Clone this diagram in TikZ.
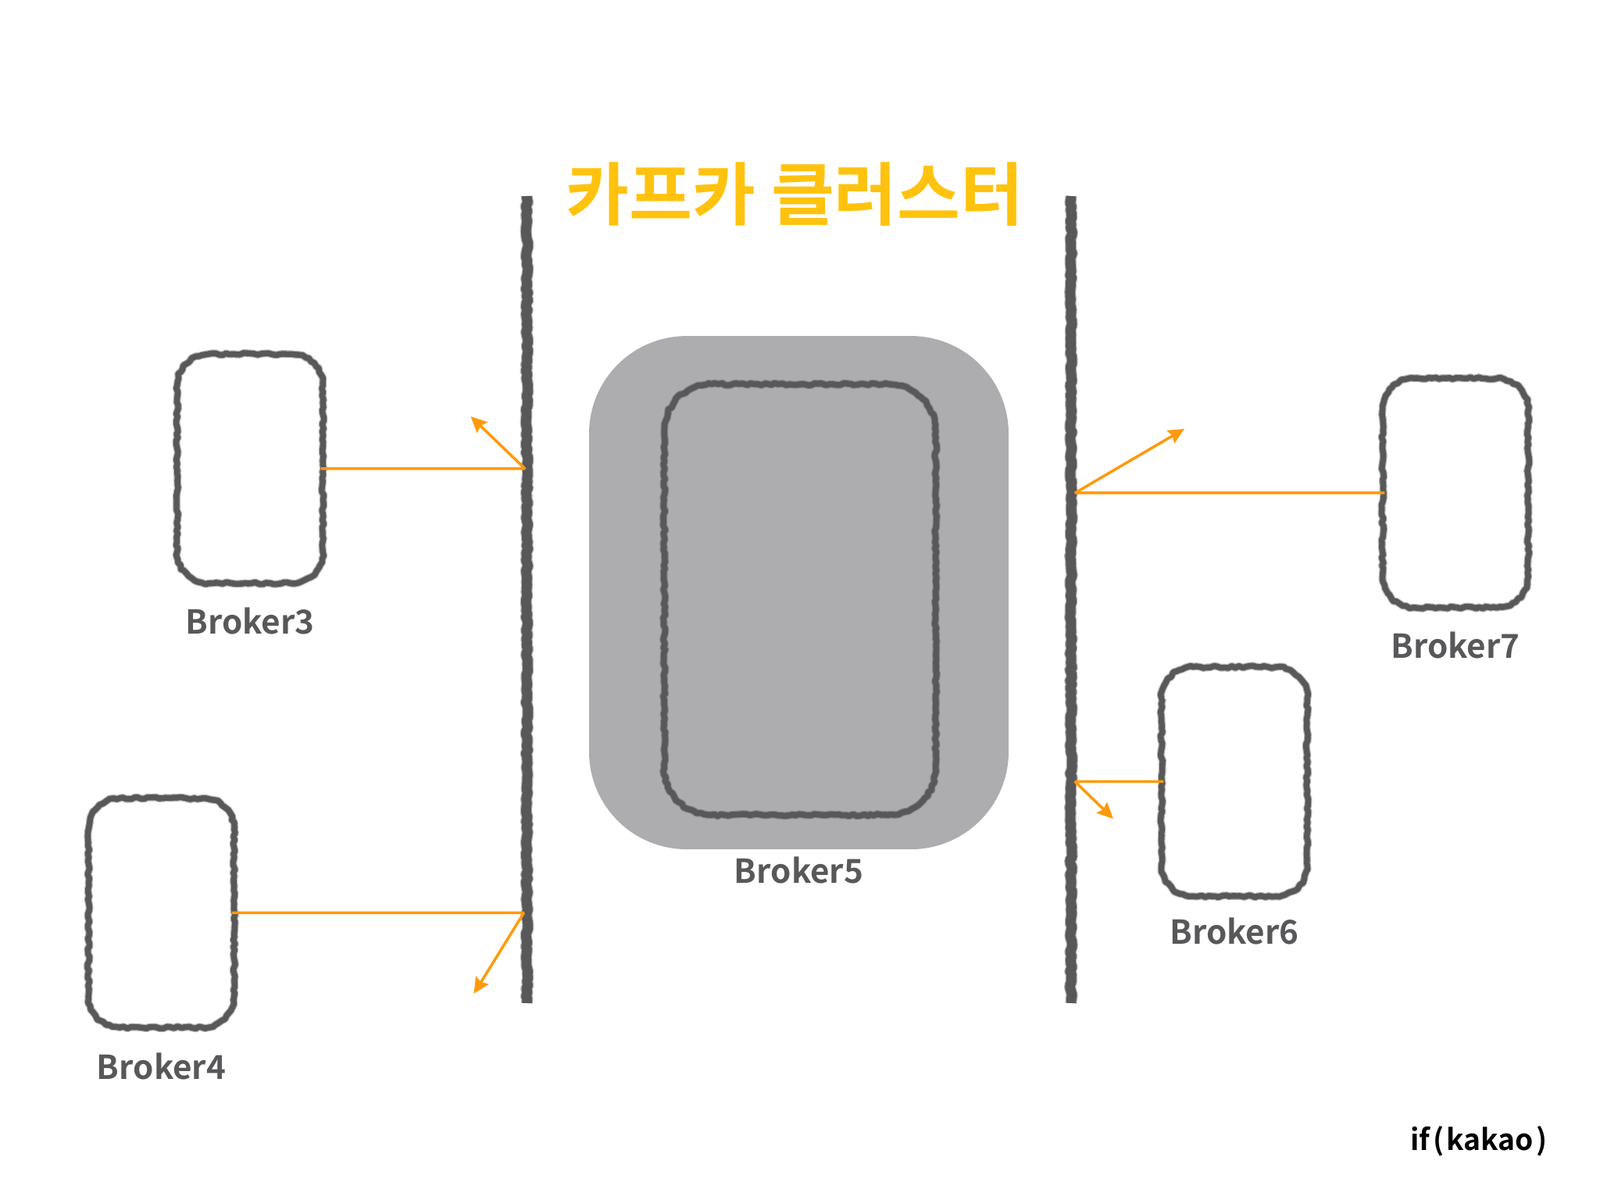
\documentclass[tikz,border=0pt]{standalone}
\usepackage{fontspec}
\setmainfont{Noto Sans CJK KR}[BoldFont={Noto Sans CJK KR Bold}]
\usetikzlibrary{arrows.meta, positioning, decorations.pathmorphing}

\definecolor{crayon}{HTML}{58585A}
\definecolor{signal}{HTML}{FF9A0A}
\definecolor{clustertitle}{HTML}{FFC20E}
\definecolor{halo}{HTML}{ADACAF}

\tikzset{
	crayon line/.style={draw=crayon, line width=#1, line join=round, decorate,
		decoration={random steps, segment length=1.3pt, amplitude=0.4pt},
		preaction={draw=crayon, draw opacity=0.45, line width=#1+0.7pt, line join=round,
			decorate, decoration={random steps, segment length=1.5pt, amplitude=0.4pt}}},
	crayon line/.default=2.1pt,
	broker/.style={minimum width=1.85cm, minimum height=2.92cm, inner sep=0pt},
	broker label/.style={text=crayon, font=\bfseries\fontsize{12}{15}\selectfont,
		inner sep=0pt},
	signal line/.style={draw=signal, line width=1pt, line join=bevel, shorten <=-0.7pt,
		-{Stealth[length=5.8pt, width=5.4pt, inset=0.8pt]}}
}

% outline of a broker node, radius #2
\newcommand{\crayonbox}[2]{
	\draw [crayon line] ([yshift=-#2]#1.north west)
		arc [start angle=180, end angle=90, radius=#2]
		-- ([xshift=-#2]#1.north east)
		arc [start angle=90, end angle=0, radius=#2]
		-- ([yshift=#2]#1.south east)
		arc [start angle=0, end angle=-90, radius=#2]
		-- ([xshift=#2]#1.south west)
		arc [start angle=-90, end angle=-180, radius=#2]
		-- cycle;
}

\begin{document}
\begin{tikzpicture}
	\useasboundingbox (0,0) rectangle (20.48,15.36);

	\node [fill=halo, rounded corners=1.25cm, minimum width=5.37cm,
	minimum height=6.57cm, inner sep=0pt] (halo) at (10.225,7.774) {};
	\node [broker, minimum width=3.46cm, minimum height=5.5cm] (broker5) at (10.24,7.685) {};
	\node [broker label, below=0.08cm of halo] (label5) {Broker5};

	\node [broker] (broker3) at (3.2,9.36) {};
	\node [broker] (broker4) at (2.065,3.675) {};
	\node [broker] (broker6) at (15.8,5.355) {};
	\node [broker] (broker7) at (18.63,9.05) {};

	\node [broker label, below=0.3cm of broker3] (label3) {Broker3};
	\node [broker label, below=0.32cm of broker4] (label4) {Broker4};
	\node [broker label, below=0.27cm of broker6] (label6) {Broker6};
	\node [broker label, below=0.3cm of broker7] (label7) {Broker7};

	\crayonbox{broker5}{6mm}
	\foreach \name in {broker3, broker4, broker6, broker7}
		\crayonbox{\name}{4mm};

	\node [text=clustertitle, font=\bfseries\fontsize{25}{30}\selectfont,
	inner sep=0pt] (title) at (10.175,12.87) {카프카 클러스터};
	\node [text=black, font=\fontsize{10.6}{13}\selectfont\bfseries,
	inner sep=0pt] (brand) at (18.93,0.75) {if\kern1pt(\kern1pt kakao\kern1pt)};

	% the two walls of the cluster
	\coordinate (lefttop) at (6.745,12.85);
	\coordinate (leftbottom) at (6.745,2.52);
	\coordinate (righttop) at (13.71,12.85);
	\coordinate (rightbottom) at (13.71,2.52);
	\draw [crayon line=3.6pt] (lefttop) -- (leftbottom);
	\draw [crayon line=3.6pt] (righttop) -- (rightbottom);

	% where each signal hits a wall, and where it bounces to
	\coordinate (hit3) at (6.72,9.36);
	\coordinate (hit4) at (6.705,3.675);
	\coordinate (hit6) at (13.76,5.355);
	\coordinate (hit7) at (13.76,9.05);
	\coordinate (bounce3) at (6.025,10.03);
	\coordinate (bounce4) at (6.065,2.64);
	\coordinate (bounce6) at (14.25,4.88);
	\coordinate (bounce7) at (15.16,9.87);

	\draw [signal line] (broker3.east) -- (hit3) -- (bounce3);
	\draw [signal line] (broker4.east) -- (hit4) -- (bounce4);
	\draw [signal line] (broker6.west) -- (hit6) -- (bounce6);
	\draw [signal line] (broker7.west) -- (hit7) -- (bounce7);
\end{tikzpicture}
\end{document}
